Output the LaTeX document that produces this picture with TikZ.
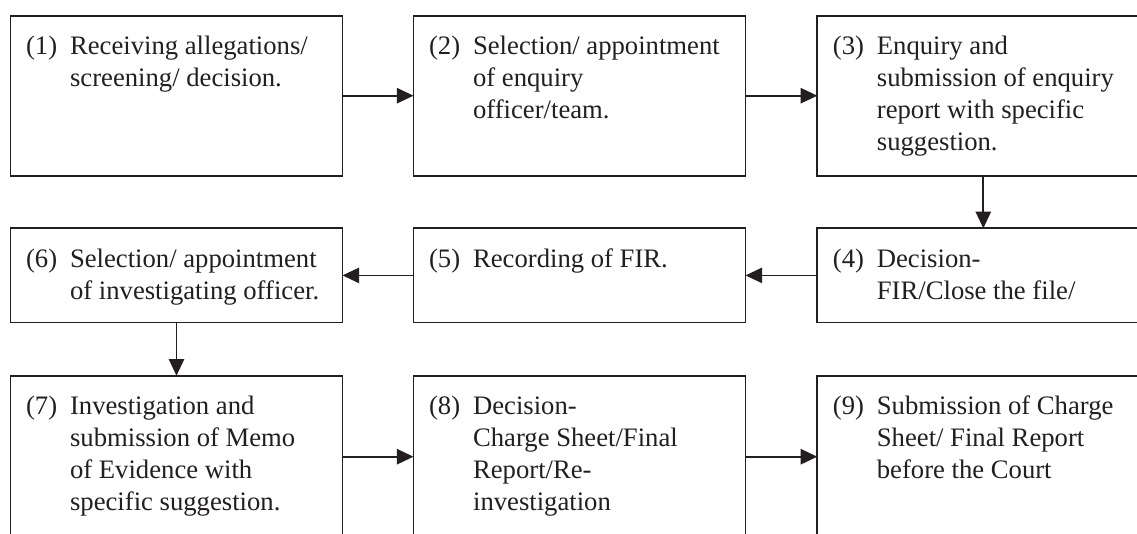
\documentclass[tikz,border=0pt]{standalone}
\usepackage{fontspec}
\setmainfont{Liberation Serif}
\usetikzlibrary{arrows.meta}
\definecolor{linec}{RGB}{35,31,32}
\newcommand{\bxtext}[2]{\begin{tabular}{@{}p{33pt}@{}l@{}}#1 & #2\end{tabular}}
\begin{document}
\begin{tikzpicture}[x=0.75pt,y=-0.75pt,
  stepbox/.style={draw=linec, line width=1.3pt, minimum width=249pt, inner sep=0pt, outer sep=0pt},
  steptext/.style={anchor=north west, inner sep=0pt, text=linec, font=\fontsize{20}{24}\selectfont, xshift=11.5pt, yshift=-12.4pt},
  arr/.style={draw=linec, line width=1.3pt, -{Triangle[length=12.5pt,width=11.5pt]}}]
\useasboundingbox (0,0) rectangle (1137,534);
\clip (0,0) rectangle (1137,534);
\fill[white] (0,0) rectangle (1137,534);
% row 1
\node[stepbox, minimum height=120pt] (b1) at (176.5,95.7) {};
\node[stepbox, minimum height=120pt] (b2) at (579.5,95.7) {};
\node[stepbox, minimum height=120pt] (b3) at (983.3,95.7) {};
% row 2
\node[stepbox, minimum height=70.65pt] (b6) at (176.5,275.4) {};
\node[stepbox, minimum height=70.65pt] (b5) at (579.5,275.4) {};
\node[stepbox, minimum height=70.65pt] (b4) at (983.3,275.4) {};
% row 3
\node[stepbox, minimum height=121.5pt] (b7) at (176.5,456.7) {};
\node[stepbox, minimum height=121.5pt] (b8) at (579.5,456.7) {};
\node[stepbox, minimum height=121.5pt] (b9) at (983.3,456.7) {};
% texts
\node[steptext] (t1) at (b1.north west) {\bxtext{(1)}{Receiving allegations/\\ & screening/ decision.}};
\node[steptext] (t2) at (b2.north west) {\bxtext{(2)}{Selection/ appointment\\ & of enquiry\\ & officer/team.}};
\node[steptext] (t3) at (b3.north west) {\bxtext{(3)}{Enquiry and\\ & submission of enquiry\\ & report with specific\\ & suggestion.}};
\node[steptext] (t4) at (b4.north west) {\bxtext{(4)}{Decision-\\ & FIR/Close the file/}};
\node[steptext] (t5) at (b5.north west) {\bxtext{(5)}{Recording of FIR.}};
\node[steptext] (t6) at (b6.north west) {\bxtext{(6)}{Selection/ appointment\\ & of investigating officer.}};
\node[steptext] (t7) at (b7.north west) {\bxtext{(7)}{Investigation and\\ & submission of Memo\\ & of Evidence with\\ & specific suggestion.}};
\node[steptext] (t8) at (b8.north west) {\bxtext{(8)}{Decision-\\ & Charge Sheet/Final\\ & Report/Re-\\ & investigation}};
\node[steptext] (t9) at (b9.north west) {\bxtext{(9)}{Submission of Charge\\ & Sheet/ Final Report\\ & before the Court}};
% connectors
\draw[arr] (b1.east) -- (b2.west);
\draw[arr] (b2.east) -- (b3.west);
\draw[arr] (b3.south) -- (b4.north);
\draw[arr] (b4.west) -- (b5.east);
\draw[arr] (b5.west) -- (b6.east);
\draw[arr] (b6.south) -- (b7.north);
\draw[arr] (b7.east) -- (b8.west);
\draw[arr] (b8.east) -- (b9.west);
\end{tikzpicture}
\end{document}
